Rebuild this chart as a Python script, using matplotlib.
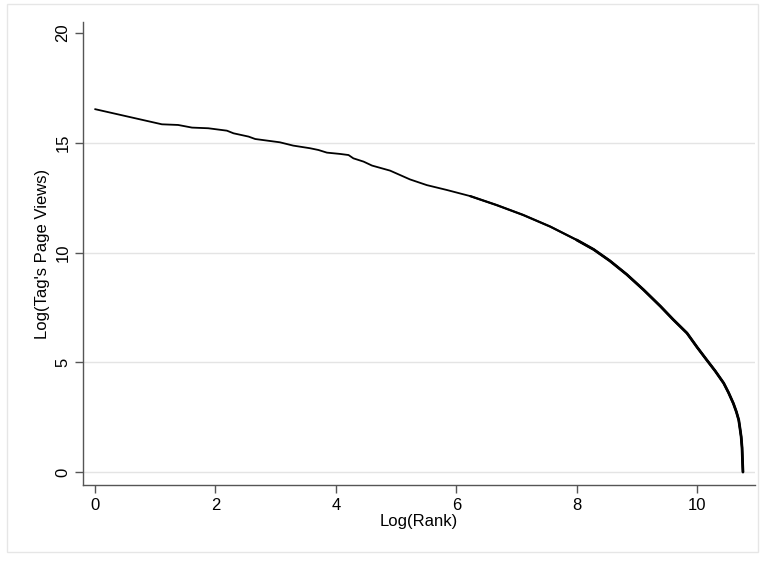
import matplotlib.pyplot as plt
from matplotlib.patches import Rectangle

# ===== Data =====
log_rank = [0.00, 1.11, 1.38, 1.61, 1.88, 2.19, 2.30, 2.55, 2.66, 3.07, 3.29,
            3.57, 3.71, 3.85, 4.07, 4.21, 4.29, 4.46, 4.60, 4.90, 5.23, 5.51,
            5.84, 6.23, 6.67, 7.11, 7.56, 8.00, 8.28, 8.55, 8.83, 9.11, 9.39,
            9.60, 9.83, 10.00, 10.16, 10.30, 10.44, 10.52, 10.60, 10.65,
            10.69, 10.71, 10.73, 10.745, 10.75, 10.76]
log_views = [16.53, 15.84, 15.81, 15.69, 15.66, 15.55, 15.43, 15.28, 15.17,
             15.02, 14.87, 14.75, 14.67, 14.55, 14.49, 14.44, 14.29, 14.14,
             13.96, 13.73, 13.33, 13.07, 12.85, 12.57, 12.16, 11.71, 11.18,
             10.57, 10.14, 9.62, 9.00, 8.30, 7.55, 6.95, 6.33, 5.68, 5.10,
             4.60, 4.05, 3.62, 3.13, 2.75, 2.37, 2.00, 1.61, 1.10, 0.70, 0.00]

x_ticks = [0, 2, 4, 6, 8, 10]
y_ticks = [0, 5, 10, 15, 20]
grid_levels = [0, 5, 10, 15]

font_name = 'Liberation Sans'
axis_color = '#555555'

fig = plt.figure(figsize=(7.66, 5.62), dpi=100)

# outer light frame (Stata-style graph region)
fig.patches.append(Rectangle((7 / 766, 10 / 562), 751 / 766, 548 / 562,
                             transform=fig.transFigure, fill=False,
                             edgecolor='#e6e6e6', linewidth=1.0))

ax = fig.add_axes([83 / 766, 77 / 562, 672 / 766, 463 / 562])

for g in grid_levels:
    ax.axhline(g, color='#e4e4e4', linewidth=1.0, zorder=0)

# main curve, drawn thicker where the points get dense
ax.plot(log_rank, log_views, color='black', linewidth=1.3,
        solid_joinstyle='round', solid_capstyle='round', zorder=3)
ax.plot(log_rank[23:], log_views[23:], color='black', linewidth=1.6,
        solid_joinstyle='round', solid_capstyle='round', zorder=3)
ax.plot(log_rank[27:], log_views[27:], color='black', linewidth=2.0,
        solid_joinstyle='round', solid_capstyle='round', zorder=3)

ax.set_xlim(-0.2, 10.96)
ax.set_ylim(-0.59, 20.5)
ax.set_xticks(x_ticks)
ax.set_yticks(y_ticks)
ax.set_xticklabels([str(v) for v in x_ticks], fontsize=12, fontname=font_name)
ax.set_yticklabels([str(v) for v in y_ticks], fontsize=12, fontname=font_name,
                   rotation=90, va='center')

ax.set_xlabel("Log(Rank)", fontsize=12, fontname=font_name, labelpad=1)
ax.set_ylabel("Log(Tag's Page Views)", fontsize=12, fontname=font_name, labelpad=4)

for side in ['top', 'right']:
    ax.spines[side].set_visible(False)
for side in ['left', 'bottom']:
    ax.spines[side].set_color(axis_color)
    ax.spines[side].set_linewidth(1.0)
ax.tick_params(axis='both', direction='out', length=6, width=1.0,
               color=axis_color, pad=3)

fig.savefig("out.png", dpi=100)
